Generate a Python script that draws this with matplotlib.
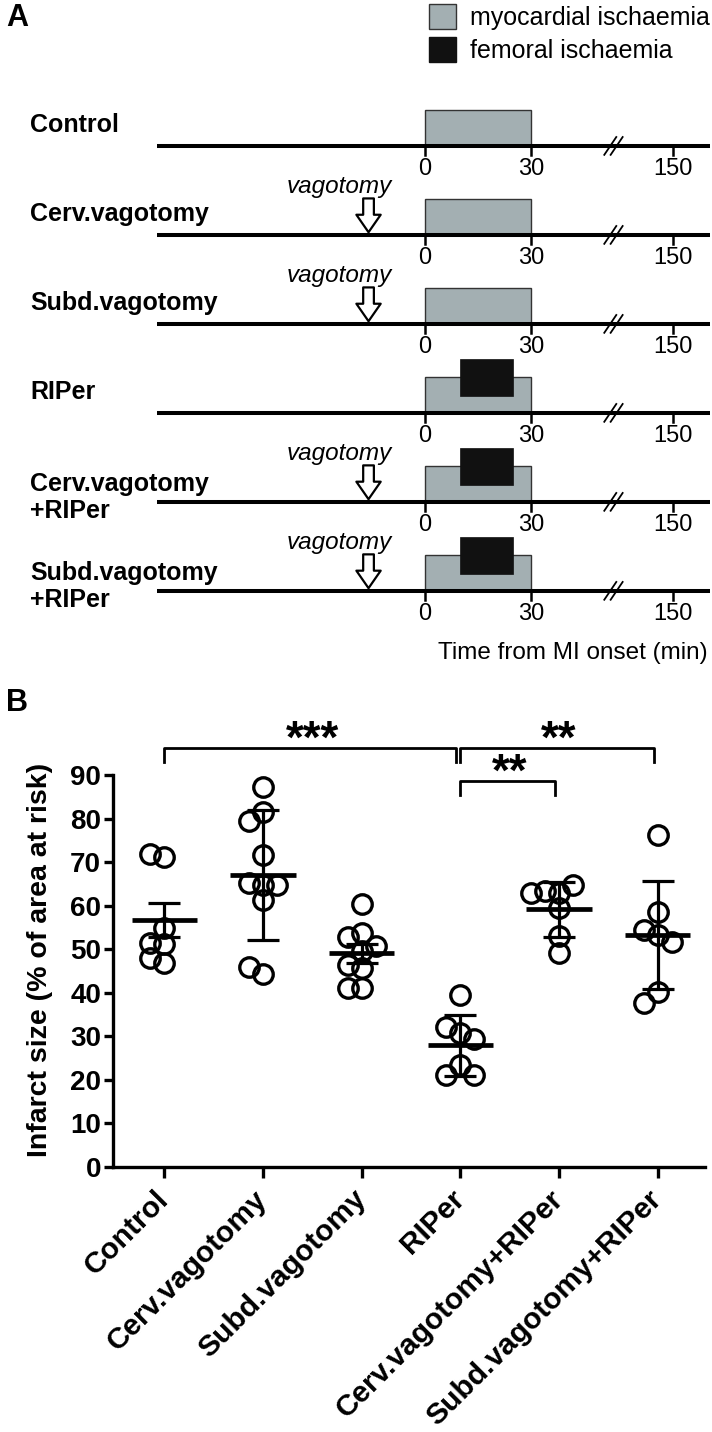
import numpy as np
import matplotlib
matplotlib.use('Agg')
import matplotlib.pyplot as plt
from matplotlib.patches import Rectangle, Patch

plt.rcParams['font.family'] = ['Liberation Sans', 'DejaVu Sans']

# ---- panel A: protocol timelines ----
rows = ['Control', 'Cerv.vagotomy', 'Subd.vagotomy', 'RIPer',
        'Cerv.vagotomy\n+RIPer', 'Subd.vagotomy\n+RIPer']
has_vagotomy = [False, True, True, False, True, True]
has_femoral = [False, False, False, True, True, True]
mi_start, mi_end = 0, 30          # min
fem_start, fem_end = 10, 25       # min
vag_time = -16                    # min
t_first = -76                     # min, start of the drawn timeline
tick_times = [0, 30, 150]

# ---- panel B: infarct size ----
groups = ['Control', 'Cerv.vagotomy', 'Subd.vagotomy', 'RIPer',
          'Cerv.vagotomy+RIPer', 'Subd.vagotomy+RIPer']
control = [71.2, 71.9, 54.8, 51.3, 51.5, 46.8, 48.0]
cerv_vag = [87.3, 81.4, 79.5, 71.6, 64.7, 65.1, 64.7, 61.3, 44.3, 46.0]
subd_vag = [60.4, 53.8, 52.9, 50.7, 49.5, 45.6, 46.4, 41.0, 41.2]
riper = [39.5, 30.7, 32.2, 29.5, 23.4, 21.1, 21.1]
cerv_riper = [62.8, 63.4, 64.7, 62.8, 59.4, 53.0, 49.1]
subd_riper = [76.2, 58.6, 53.3, 54.4, 51.7, 40.1, 37.6]
points = [control, cerv_vag, subd_vag, riper, cerv_riper, subd_riper]
means = [56.7, 67.0, 49.1, 27.9, 59.2, 53.2]
errors = [4.0, 14.9, 2.2, 7.0, 6.3, 12.4]

sig_pairs = [(0, 3), (3, 5), (3, 4)]
sig_labels = ['***', '**', '**']
sig_y = [96.2, 96.2, 88.6]

GRAY = '#a3afb2'
BLACK = '#111111'


def tpos(t):
    # broken time axis: linear to 30 min, compressed after
    t = np.asarray(t, dtype=float)
    return np.where(t <= 30, t, 30 + (t - 30) * 0.336)


def swarm(vals, px_x, px_y, step=14.0, min_d=14.0):
    # simple beeswarm: offsets in data units for x
    placed = []
    offs = []
    for v in vals:
        for k in [0, -1, 1, -2, 2, -3, 3]:
            xo = k * step
            ok = all(np.hypot(xo - px, (v - py) * px_y) >= min_d for px, py in placed)
            if ok:
                break
        placed.append((xo, v))
        offs.append(xo / px_x)
    return np.array(offs)


fig = plt.figure(figsize=(7.12, 14.32), dpi=100)
W, H = 712.0, 1432.0

# panel A axes covers the top of the figure, x in (compressed) minutes, y in rows
axA = fig.add_axes([0, 1 - 840 / H, 1, 840 / H])
axA.set_xlim(-120.4, 81.3)
axA.set_ylim(7.80, -1.64)
axA.axis('off')

p150 = float(tpos(150))
p_break = float(tpos(30)) + 0.58 * (p150 - float(tpos(30)))
for i, name in enumerate(rows):
    axA.plot([tpos(t_first), p150 + 10.4], [i, i], color='black', lw=2.9,
             solid_capstyle='butt', zorder=3)
    axA.add_patch(Rectangle((tpos(mi_start), i - 0.40), tpos(mi_end) - tpos(mi_start), 0.40,
                            fc=GRAY, ec='#333333', lw=1.0, zorder=1))
    if has_femoral[i]:
        axA.add_patch(Rectangle((tpos(fem_start), i - 0.60), tpos(fem_end) - tpos(fem_start), 0.41,
                                fc=BLACK, ec=BLACK, lw=0.5, zorder=2))
    for t in tick_times:
        p = float(tpos(t))
        axA.plot([p, p], [i, i + 0.10], color='black', lw=1.8, zorder=3)
        axA.text(p, i + 0.26, str(t), ha='center', va='center', fontsize=17)
    for dx in (-0.9, 0.9):
        axA.plot([p_break + dx - 1.7, p_break + dx + 1.7], [i + 0.10, i - 0.10],
                 color='black', lw=1.3, zorder=4)
    if has_vagotomy[i]:
        axA.annotate('', xy=(tpos(vag_time), i - 0.03), xytext=(tpos(vag_time), i - 0.41),
                     arrowprops=dict(arrowstyle='simple,head_length=0.9,head_width=1.25,tail_width=0.55',
                                     fc='white', ec='black', lw=1.6, mutation_scale=14,
                                     shrinkA=0, shrinkB=0), zorder=5)
        axA.annotate('vagotomy', xy=(tpos(vag_time), i - 0.54), xytext=(-21, 0),
                     textcoords='offset points', ha='center', va='center',
                     style='italic', fontsize=17.5)
    if '\n' in name:
        axA.text(30 / W, i - 0.05, name, transform=axA.get_yaxis_transform(),
                 ha='left', va='center', fontsize=18, fontweight='bold', linespacing=1.12)
    else:
        axA.text(30 / W, i - 0.24, name, transform=axA.get_yaxis_transform(),
                 ha='left', va='center', fontsize=18, fontweight='bold')

axA.text(708 / W, 5.70, 'Time from MI onset (min)', transform=axA.get_yaxis_transform(),
         ha='right', va='center', fontsize=17.5)

axA.legend(handles=[Patch(fc=GRAY, ec='#333333', lw=1.0, label='myocardial ischaemia'),
                    Patch(fc=BLACK, ec=BLACK, label='femoral ischaemia')],
           loc='upper left', bbox_to_anchor=(429 / W, 1 - 4 / 840), frameon=False,
           borderpad=0, borderaxespad=0, handlelength=1.1, handleheight=1.15,
           handletextpad=0.55, labelspacing=0.28, fontsize=18)

fig.text(6 / W, 1 - 18 / H, 'A', fontsize=22, fontweight='bold', va='center', ha='left')
fig.text(6 / W, 1 - 703 / H, 'B', fontsize=22, fontweight='bold', va='center', ha='left')

# ---- panel B ----
axB = fig.add_axes([113 / W, 1 - 1167 / H, 592 / W, 392 / H])
axB.set_xlim(-0.52, 5.48)
axB.set_ylim(0, 90)
px_x = 592 / 6.0
px_y = 392 / 90.0
for i, vals in enumerate(points):
    offs = swarm(vals, px_x, px_y)
    axB.plot(i + offs, vals, 'o', mfc='none', mec='black', ms=14, mew=2.4,
             clip_on=False, zorder=3)
    axB.plot([i - 0.33, i + 0.33], [means[i], means[i]], color='black', lw=3.4,
             solid_capstyle='butt', zorder=4)
    axB.errorbar(i, means[i], yerr=errors[i], fmt='none', ecolor='black',
                 elinewidth=2.3, capsize=11.5, capthick=2.3, zorder=4)

star_size = 33
for (a, b), lab, y in zip(sig_pairs, sig_labels, sig_y):
    axB.plot([a, a, b - 0.04, b - 0.04], [y - 3.2, y, y, y - 3.2], color='black',
             lw=2.0, clip_on=False)
    # asterisks sit a few units above the bracket
    axB.annotate(lab, xy=((a + b) / 2, y + 5.0), xytext=(0, -0.58 * star_size),
                 textcoords='offset points', ha='center', va='baseline',
                 fontsize=star_size, fontweight='bold', annotation_clip=False)

for s in ['top', 'right']:
    axB.spines[s].set_visible(False)
for s in ['left', 'bottom']:
    axB.spines[s].set_linewidth(2.4)
axB.set_yticks(np.arange(0, 91, 10))
axB.set_xticks(range(len(groups)))
axB.set_xticklabels(groups, rotation=45, ha='right', va='center',
                    rotation_mode='anchor', fontsize=21.5, fontweight='bold')
for lab in axB.get_yticklabels():
    lab.set_fontweight('bold')
axB.tick_params(axis='y', length=6.5, width=2.4, labelsize=20, pad=2)
axB.tick_params(axis='x', length=8, width=2.4, pad=12)

fig.text(40 / W, 1 - 960 / H, 'Infarct size (% of area at risk)', rotation=90,
         ha='center', va='center', fontsize=20.5, fontweight='bold')

fig.savefig('out.png', dpi=100)
